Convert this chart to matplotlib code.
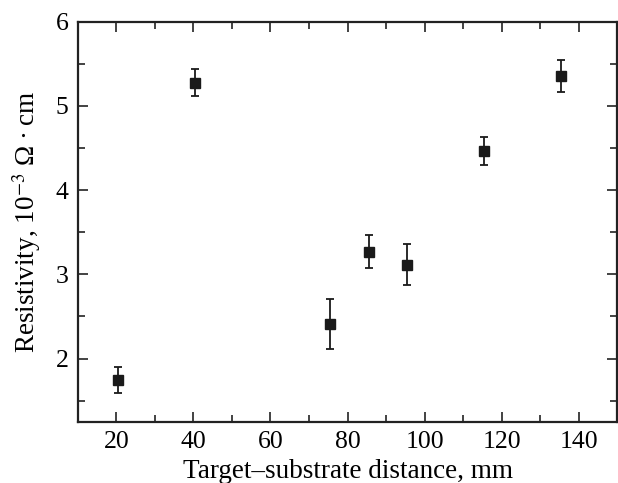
import matplotlib
matplotlib.use("Agg")
import matplotlib.pyplot as plt
from matplotlib.ticker import MultipleLocator

distance = [20.5, 40.5, 75.5, 85.5, 95.5, 115.5, 135.5]
resistivity = [1.74, 5.27, 2.41, 3.26, 3.11, 4.46, 5.35]
err_low = [0.15, 0.15, 0.30, 0.19, 0.24, 0.16, 0.18]
err_high = [0.16, 0.17, 0.30, 0.21, 0.25, 0.17, 0.19]
x_ticks = [20, 40, 60, 80, 100, 120, 140]
y_ticks = [2, 3, 4, 5, 6]

plt.rcParams['font.family'] = ['Liberation Serif', 'DejaVu Serif']
plt.rcParams['mathtext.fontset'] = 'stix'

fig = plt.figure(figsize=(6.18, 4.83), dpi=100)
ax = fig.add_axes([0.1262, 0.1269, 0.8722, 0.8282])

ax.errorbar(distance, resistivity, yerr=[err_low, err_high], fmt='s',
            color='#1a1a1a', markersize=7.5, capsize=3.2, elinewidth=1.3,
            capthick=1.3, ecolor='#1a1a1a')

ax.set_xlim(10, 150)
ax.set_ylim(1.25, 6)
ax.xaxis.set_minor_locator(MultipleLocator(10))
ax.yaxis.set_minor_locator(MultipleLocator(0.5))
ax.set_xticks(x_ticks)
ax.set_yticks(y_ticks)

ax.tick_params(which='both', direction='in', top=True, right=True,
               labelsize=18.5, width=1.2, color='#222222')
ax.tick_params(which='major', length=7)
ax.tick_params(which='minor', length=5)
ax.tick_params(axis='x', which='major', pad=7)
ax.tick_params(axis='y', which='major', pad=7)
for s in ax.spines.values():
    s.set_linewidth(1.6)
    s.set_color('#222222')

ax.set_xlabel('Target–substrate distance, mm', fontsize=19.5, labelpad=4)
ax.set_ylabel('Resistivity, 10$^{-3}$ Ω\u2009·\u2009cm', fontsize=19.5, labelpad=9)

fig.savefig('out.png', dpi=100)
